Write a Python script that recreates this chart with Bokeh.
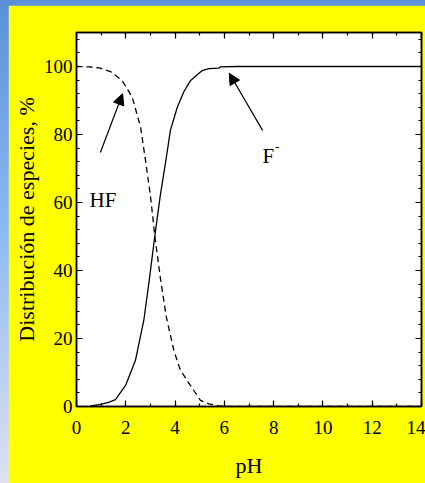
from bokeh.plotting import figure
from bokeh.models import (Range1d, LinearAxis, FixedTicker, Arrow, NormalHead,
                          Label, GlobalInlineStyleSheet)
from bokeh.embed import file_html
from bokeh.resources import INLINE

# F- distribution (%) vs pH
ph_f = [0.57, 0.97, 1.30, 1.58, 1.99, 2.39, 2.73, 2.95, 3.18, 3.40, 3.64, 3.81,
        4.09, 4.35, 4.63, 5.10, 5.37, 5.78, 5.84, 6.50, 8.0, 10.0, 12.0, 14.0]
f_pct = [0.2, 0.6, 1.2, 2.0, 6.2, 13.5, 25.3, 37.0, 50.3, 62.0, 73.0, 81.2,
         88.0, 92.5, 95.9, 98.8, 99.4, 99.5, 99.9, 100, 100, 100, 100, 100]

# HF distribution (%) vs pH
ph_hf = [0.0, 0.50, 0.97, 1.38, 1.85, 2.26, 2.60, 2.80, 3.00, 3.18, 3.40, 3.64,
         3.95, 4.20, 4.49, 5.03, 5.37, 5.77, 6.20, 8.0, 10.0, 12.0, 14.0]
hf_pct = [100, 99.9, 99.5, 98.5, 95.9, 91.0, 82.2, 72.4, 62.0, 50.0, 38.0, 26.5,
          16.5, 11.0, 7.6, 1.8, 0.8, 0.2, 0.0, 0, 0, 0, 0]

x_ticks = [0, 2, 4, 6, 8, 10, 12, 14]
x_minor = list(range(0, 15))
y_ticks = [0, 20, 40, 60, 80, 100]
y_minor = list(range(0, 112, 4))

FONT = "Liberation Serif"

css = GlobalInlineStyleSheet(css="""
html, body { margin: 0 !important; padding: 0 !important;
  background: linear-gradient(to bottom, #5a90d8 0%, #86b9f3 45%, #dfe0f2 100%) !important; }
""")

p = figure(width=417, height=478, x_range=Range1d(0, 14), y_range=Range1d(0, 110),
           output_backend="svg", toolbar_location=None,
           x_axis_location=None, y_axis_location=None,
           min_border_left=68, min_border_right=4, min_border_top=27, min_border_bottom=77)
p.stylesheets = [css]
p.styles = {"margin-left": "8px", "margin-top": "5px"}
p.background_fill_color = "white"
p.border_fill_color = "#ffff00"
p.outline_line_color = "black"
p.outline_line_width = 1.5
p.xgrid.visible = False
p.ygrid.visible = False


def style_axis(ax, ticks, labels=True):
    ax.major_tick_in = 6
    ax.major_tick_out = 0
    ax.minor_tick_in = 3
    ax.minor_tick_out = 0
    ax.major_tick_line_color = "black"
    ax.minor_tick_line_color = "black"
    ax.major_tick_line_width = 1.2
    ax.minor_tick_line_width = 1.2
    ax.axis_line_color = "black"
    ax.axis_line_width = 1.5
    ax.major_label_text_font = FONT
    ax.major_label_text_font_size = "19px"
    ax.major_label_text_color = "black"
    ax.axis_label_text_font = FONT
    ax.axis_label_text_font_style = "normal"
    ax.axis_label_text_color = "black"
    ax.axis_label_text_font_size = "22px"
    if not labels:
        ax.major_label_standoff = 0
        ax.major_label_overrides = {t: "" for t in ticks}


xb = LinearAxis(ticker=FixedTicker(ticks=x_ticks, minor_ticks=x_minor), axis_label="pH")
style_axis(xb, x_ticks)
xb.major_label_standoff = 14
xb.axis_label_standoff = 16
p.add_layout(xb, "below")

yl = LinearAxis(ticker=FixedTicker(ticks=y_ticks, minor_ticks=y_minor),
                axis_label="Distribución de especies, %")
style_axis(yl, y_ticks)
yl.major_label_standoff = 4
yl.axis_label_standoff = 2
p.add_layout(yl, "left")

xt = LinearAxis(ticker=FixedTicker(ticks=x_ticks, minor_ticks=x_minor))
style_axis(xt, x_ticks, labels=False)
p.add_layout(xt, "above")

yr = LinearAxis(ticker=FixedTicker(ticks=y_ticks, minor_ticks=y_minor))
style_axis(yr, y_ticks, labels=False)
p.add_layout(yr, "right")

p.line(ph_hf, hf_pct, line_color="black", line_width=1.3, line_dash="6 4")
p.line(ph_f, f_pct, line_color="black", line_width=1.3)

p.add_layout(Arrow(end=NormalHead(size=11, fill_color="black", line_color="black"),
                   x_start=0.97, y_start=74.7, x_end=1.87, y_end=92.0,
                   line_color="black", line_width=1.2))
p.add_layout(Arrow(end=NormalHead(size=11, fill_color="black", line_color="black"),
                   x_start=7.55, y_start=81.2, x_end=6.2, y_end=98.0,
                   line_color="black", line_width=1.2))

p.add_layout(Label(x=0.53, y=60.6, text="HF", text_font=FONT, text_font_size="21px",
                   text_color="black", text_baseline="middle", text_align="left"))
p.add_layout(Label(x=7.55, y=73.8, text="F", text_font=FONT, text_font_size="21px",
                   text_color="black", text_baseline="middle", text_align="left"))
p.add_layout(Label(x=8.05, y=76.3, text="-", text_font=FONT, text_font_size="13px",
                   text_color="black", text_baseline="middle", text_align="left"))

open("out.html", "w").write(file_html(p, INLINE))
